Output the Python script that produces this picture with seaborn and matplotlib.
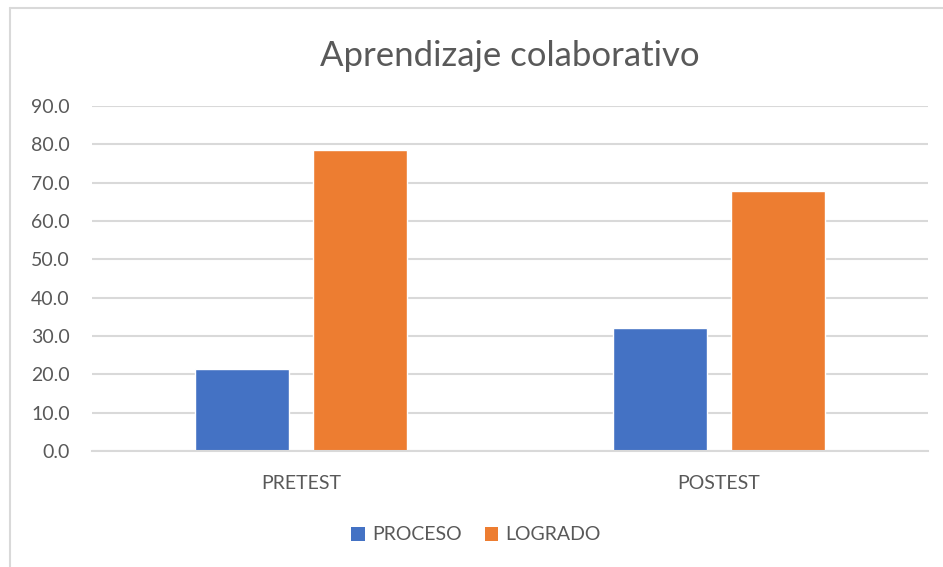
import matplotlib
matplotlib.use("Agg")
import matplotlib.pyplot as plt
import seaborn as sns
import pandas as pd
from matplotlib.lines import Line2D
from matplotlib.patches import Patch

categories = ["PRETEST", "POSTEST"]
series_names = ["PROCESO", "LOGRADO"]
proceso = [21.4, 32.1]
logrado = [78.6, 67.9]
yticks = [0, 10, 20, 30, 40, 50, 60, 70, 80, 90]
title = "Aprendizaje colaborativo"

colors = ["#4472C4", "#ED7D31"]
text_color = "#595959"
grid_color = "#D9D9D9"

df = pd.DataFrame({
    "cat": categories * 2,
    "serie": [series_names[0]] * 2 + [series_names[1]] * 2,
    "val": proceso + logrado,
})

sns.set_theme(style="white")
plt.rcParams["font.family"] = ["Lato", "DejaVu Sans"]

fig = plt.figure(figsize=(9.43, 5.67), dpi=100)
ax = fig.add_axes([92 / 943, 1 - 451 / 567, (928 - 92) / 943, (451 - 106) / 567])

sns.barplot(data=df, x="cat", y="val", hue="serie", order=categories,
            hue_order=series_names, palette=colors, width=0.564, gap=0.2,
            saturation=1, ax=ax, legend=False, errorbar=None)

ax.set_xlim(-0.5, 1.5)
ax.set_ylim(0, 90)
ax.set_yticks(yticks)
ax.set_yticklabels([f"{v:.1f}" for v in yticks])
ax.yaxis.grid(True, color=grid_color, linewidth=1.5)
ax.set_axisbelow(True)
for s in ["top", "right", "left"]:
    ax.spines[s].set_visible(False)
ax.spines["bottom"].set_color(grid_color)
ax.spines["bottom"].set_linewidth(1.5)
ax.tick_params(axis="y", length=0, pad=16, labelsize=14, labelcolor=text_color)
ax.tick_params(axis="x", length=0, pad=17, labelsize=14, labelcolor=text_color)
ax.set_xlabel("")
ax.set_ylabel("")

fig.text(510 / 943, 1 - 56 / 567, title, ha="center", va="center",
         fontsize=25, color=text_color)

handles = [Patch(facecolor=c, edgecolor="none") for c in colors]
fig.legend(handles, series_names, loc="center", bbox_to_anchor=(476 / 943, 1 - 535 / 567),
           ncol=2, frameon=False, fontsize=14, labelcolor=text_color,
           handlelength=0.7, handleheight=0.7, handletextpad=0.35, columnspacing=1.2)

# chart frame
fig.add_artist(Line2D([10 / 943, 10 / 943], [0, 1 - 8 / 567], transform=fig.transFigure,
                      color=grid_color, linewidth=1.5))
fig.add_artist(Line2D([10 / 943, 1], [1 - 8 / 567, 1 - 8 / 567], transform=fig.transFigure,
                      color=grid_color, linewidth=1.5))

fig.savefig("out.png", dpi=100, facecolor="white")
